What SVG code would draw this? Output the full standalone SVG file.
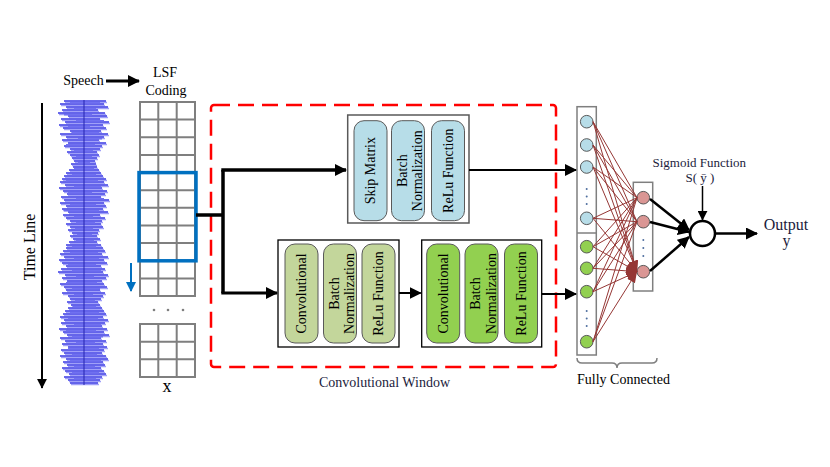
<svg xmlns="http://www.w3.org/2000/svg" width="830" height="467" viewBox="0 0 830 467" font-family="'Liberation Serif', 'DejaVu Serif', serif">
<style>
text{font-family:"Liberation Serif","DejaVu Serif",serif;fill:#000}
.t14{font-size:14px}
.t13{font-size:13px}
.navy{fill:#1c1c3c}
.grid{fill:none;stroke:#7f7f7f;stroke-width:2}
.blk{fill:#fff;stroke:#000;stroke-width:1.3}
.cell{stroke:#595959;stroke-width:1}
.skipc{fill:#b7dde8}
.conv1{fill:#c3d69b}
.conv2{fill:#92d050}
.cb{fill:#b7dde8;stroke:#595959;stroke-width:1}
.cg{fill:#92d050;stroke:#595959;stroke-width:1}
.cp{fill:#da9694;stroke:#595959;stroke-width:1}
.fcl{stroke:#953735;stroke-width:1;fill:none;marker-end:url(#ar)}
.con{fill:none;stroke:#000}
.dot{fill:#4f6f9f}
</style>
<defs>
<marker id="ah" viewBox="0 0 12 12" refX="11" refY="6" markerWidth="12" markerHeight="12" markerUnits="userSpaceOnUse" orient="auto"><path d="M0,0 L12,6 L0,12 Z" fill="#000"/></marker>
<marker id="ahs" viewBox="0 0 12 12" refX="11" refY="6" markerWidth="10" markerHeight="10" markerUnits="userSpaceOnUse" orient="auto"><path d="M0,0 L12,6 L0,12 Z" fill="#000"/></marker>
<marker id="ar" viewBox="0 0 10 8" refX="10" refY="4" markerWidth="11" markerHeight="9" markerUnits="userSpaceOnUse" orient="auto"><path d="M0,0 L10,4 L0,8 Z" fill="#953735"/></marker>
<marker id="ab" viewBox="0 0 10 10" refX="9" refY="5" markerWidth="10" markerHeight="10" markerUnits="userSpaceOnUse" orient="auto"><path d="M0,0 L10,5 L0,10 Z" fill="#0070c0"/></marker>
<path id="wave" d="M64 101H106M60 104H104M66 107H108M62 110H98M58 113H105M68 116H107M61 119H100M65 122H109M59 125H103M63 128H106M70 131H101M60 134H108M66 137H104M62 140H99M68 143H106M64 146H102M70 149H100M67 152H97M70 155H99M72 158H97M74 161H95M71 164H96M73 167H97M69 170H99M66 173H101M64 176H103M62 179H106M60 182H104M65 185H108M59 188H102M63 191H107M67 194H105M61 197H101M64 200H109M60 203H104M66 206H106M62 209H103M68 212H108M63 215H100M66 218H105M70 221H102M66 224H101M70 227H103M68 230H99M72 233H98M70 236H97M73 239H100M69 242H97M66 245H101M66 248H103M63 251H105M60 254H102M64 257H108M59 260H104M62 263H107M66 266H101M61 269H105M58 272H103M65 275H108M62 278H106M67 281H102M60 284H104M64 287H107M66 290H100M62 293H105M68 296H103M70 299H101M67 302H98M71 305H100M68 308H102M65 311H104M63 314H106M60 317H103M64 320H108M61 323H105M66 326H102M59 329H107M63 332H104M67 335H109M60 338H101M65 341H106M62 344H103M68 347H107M61 350H104M64 353H102M60 356H106M66 359H108M63 362H103M67 365H105M62 368H101M65 371H104M69 374H106M64 377H102M68 380H100M70 383H98"/>
<path id="wave2" d="M70 102H100M74 108H96M64 114H92M76 120H104M68 126H90M72 132H99M78 138H102M66 144H95M74 150H93M76 156H92M78 162H90M74 168H94M72 174H96M66 180H98M74 186H101M68 192H92M76 198H104M70 204H96M64 210H99M74 216H93M76 222H95M75 228H93M77 234H92M76 240H94M72 246H96M70 252H98M74 258H99M68 264H96M72 270H101M76 276H94M66 282H97M72 288H100M74 294H93M75 300H95M73 306H96M70 312H99M68 318H98M74 324H101M66 330H96M72 336H103M76 342H95M68 348H99M72 354H97M70 360H101M74 366H95M72 372H99M74 378H96"/>
</defs>

<g id="time-line">
<line x1="42" y1="103" x2="42" y2="388" stroke="#000" stroke-width="2" marker-end="url(#ahs)"/>
<text style="font-size:16px" transform="translate(35,247) rotate(-90)" text-anchor="middle">Time Line</text>
</g>

<g id="speech-waveform">
<use href="#wave" stroke="#a0a0f8" stroke-width="1.6" transform="translate(1,1.5)"/>
<use href="#wave" stroke="#3a3ae4" stroke-width="1.6"/>
<use href="#wave2" stroke="#7070f0" stroke-width="1.6" transform="translate(0,0.8)"/>
<line x1="84" y1="100" x2="84" y2="385" stroke="#2424b0" stroke-width="1"/>
</g>

<g id="speech-label">
<text class="t14" x="83.5" y="85" text-anchor="middle">Speech</text>
</g>

<g id="lsf-label">
<text class="t14" x="165" y="77" text-anchor="middle">LSF</text>
<text class="t14" x="166" y="95" text-anchor="middle">Coding</text>
</g>

<g id="lsf-grid">
<rect class="grid" x="140" y="102" width="55" height="194"/>
<path class="grid" d="M158.3 102V296M176.7 102V296M140 119.6H195M140 137.3H195M140 154.9H195M140 172.6H195M140 190.2H195M140 207.8H195M140 225.5H195M140 243.1H195M140 260.8H195M140 278.4H195"/>
<rect class="grid" x="140" y="324" width="55" height="53"/>
<path class="grid" d="M158.3 324V377M176.7 324V377M140 341.7H195M140 359.3H195"/>
<circle cx="154" cy="310" r="1.3" fill="#7f7f7f"/>
<circle cx="168" cy="310" r="1.3" fill="#7f7f7f"/>
<circle cx="183" cy="310" r="1.3" fill="#7f7f7f"/>
<rect x="139" y="172.6" width="57" height="88.2" fill="none" stroke="#0070c0" stroke-width="3.5"/>
<line x1="131" y1="263" x2="131" y2="291" stroke="#0070c0" stroke-width="2" marker-end="url(#ab)"/>
<text x="167" y="392" text-anchor="middle" style="font-size:18px">x</text>
</g>

<g id="convolutional-window">
<rect x="211" y="105" width="345" height="262" rx="3" fill="none" stroke="#ff0000" stroke-width="2.5" stroke-dasharray="16 8"/>
<text class="navy" x="384.5" y="387" text-anchor="middle" style="font-size:14px">Convolutional Window</text>
</g>

<g id="skip-block">
<rect x="347.7" y="115" width="121.3" height="108" fill="#fff" stroke="#595959" stroke-width="1.5"/>
<rect class="skipc cell" x="354" y="120.7" width="33" height="100" rx="10"/>
<rect class="skipc cell" x="391.5" y="120.7" width="33" height="100" rx="10"/>
<rect class="skipc cell" x="431.5" y="120.7" width="33" height="100" rx="10"/>
<text class="t14" transform="translate(370.5,170.7) rotate(-90)" y="4.5" text-anchor="middle">Skip Matrix</text>
<text class="t14" transform="translate(408,170.7) rotate(-90)" text-anchor="middle"><tspan x="0" y="-1.5">Batch</tspan><tspan x="0" y="14">Normalization</tspan></text>
<text class="t14" transform="translate(448,170.7) rotate(-90)" y="4.5" text-anchor="middle">ReLu Function</text>
</g>

<g id="conv-block-1">
<rect class="blk" x="278" y="240" width="121" height="107"/>
<rect class="conv1 cell" x="285" y="244" width="33" height="99" rx="10"/>
<rect class="conv1 cell" x="323.5" y="244" width="33" height="99" rx="10"/>
<rect class="conv1 cell" x="362" y="244" width="33" height="99" rx="10"/>
<text class="t14" transform="translate(301.5,293.5) rotate(-90)" y="4.5" text-anchor="middle">Convolutional</text>
<text class="t14" transform="translate(340,293.5) rotate(-90)" text-anchor="middle"><tspan x="0" y="-1.5">Batch</tspan><tspan x="0" y="14">Normalization</tspan></text>
<text class="t14" transform="translate(378.5,293.5) rotate(-90)" y="4.5" text-anchor="middle">ReLu Function</text>
</g>

<g id="conv-block-2">
<rect class="blk" x="421.7" y="240" width="120" height="107"/>
<rect class="conv2 cell" x="426.7" y="244" width="33" height="99" rx="10"/>
<rect class="conv2 cell" x="465" y="244" width="33" height="99" rx="10"/>
<rect class="conv2 cell" x="504.5" y="244" width="33" height="99" rx="10"/>
<text class="t14" transform="translate(443.2,293.5) rotate(-90)" y="4.5" text-anchor="middle">Convolutional</text>
<text class="t14" transform="translate(481.5,293.5) rotate(-90)" text-anchor="middle"><tspan x="0" y="-1.5">Batch</tspan><tspan x="0" y="14">Normalization</tspan></text>
<text class="t14" transform="translate(521,293.5) rotate(-90)" y="4.5" text-anchor="middle">ReLu Function</text>
</g>

<g id="fc-input-layer">
<rect x="577" y="106.7" width="19.3" height="248.3" fill="#fff" stroke="#7f7f7f" stroke-width="1.5"/>
<line x1="577" y1="233" x2="596.3" y2="233" stroke="#7f7f7f" stroke-width="1.5"/>
<circle class="cb" cx="586.7" cy="121.7" r="6.3"/>
<circle class="cb" cx="586.7" cy="145" r="6.3"/>
<circle class="cb" cx="586.7" cy="167" r="6.3"/>
<circle class="dot" cx="586.7" cy="189" r="1"/>
<circle class="dot" cx="586.7" cy="196.5" r="1"/>
<circle class="dot" cx="586.7" cy="204" r="1"/>
<circle class="cb" cx="586.7" cy="218.3" r="6.3"/>
<circle class="cg" cx="586.7" cy="246.7" r="6.3"/>
<circle class="cg" cx="586.7" cy="268.3" r="6.3"/>
<circle class="cg" cx="586.7" cy="291.7" r="6.3"/>
<circle class="dot" cx="586.7" cy="311" r="1"/>
<circle class="dot" cx="586.7" cy="318.5" r="1"/>
<circle class="dot" cx="586.7" cy="326" r="1"/>
<circle class="cg" cx="586.7" cy="341.7" r="6.3"/>
</g>

<g id="fc-hidden-layer">
<rect x="633.3" y="182.3" width="19.4" height="108.7" fill="#fff" stroke="#7f7f7f" stroke-width="1.5"/>
<circle class="cp" cx="643.3" cy="197.7" r="6.3"/>
<circle class="cp" cx="643.3" cy="221.7" r="6.3"/>
<circle class="dot" cx="643.3" cy="240" r="1"/>
<circle class="dot" cx="643.3" cy="248" r="1"/>
<circle class="dot" cx="643.3" cy="256" r="1"/>
<circle class="cp" cx="643.3" cy="271.7" r="6.3"/>
</g>

<g id="fc-label">
<path d="M577 358Q577 363 582 363H612Q617 363 617 368Q617 363 622 363H652Q657 363 657 358" fill="none" stroke="#7f7f7f" stroke-width="1.5"/>
<text class="t14" x="623.5" y="383.5" text-anchor="middle">Fully Connected</text>
</g>

<g id="sigmoid-node">
<circle cx="702.5" cy="233.5" r="12.5" fill="#fff" stroke="#000" stroke-width="2.5"/>
<text class="navy t13" x="699.3" y="166.7" text-anchor="middle">Sigmoid Function</text>
<text class="navy t13" x="700" y="182" text-anchor="middle">S( ȳ )</text>
</g>

<g id="output">
<text class="navy" x="786" y="229.5" text-anchor="middle" style="font-size:16px">Output</text>
<text class="navy" x="786.5" y="246" text-anchor="middle" style="font-size:16px">y</text>
</g>

<g id="connectors">
<line class="con" x1="106" y1="81" x2="139" y2="81" stroke-width="3" marker-end="url(#ah)"/>
<path class="con" d="M196 215H223" stroke-width="3.5"/>
<path class="con" d="M223 170V293" stroke-width="3.5"/>
<path class="con" d="M221.3 170H346" stroke-width="3.5" marker-end="url(#ah)"/>
<path class="con" d="M221.3 293H277" stroke-width="3" marker-end="url(#ah)"/>
<path class="con" d="M469 170H576" stroke-width="2" marker-end="url(#ah)"/>
<path class="con" d="M399 293H420.7" stroke-width="2" marker-end="url(#ah)"/>
<path class="con" d="M541.7 294H576" stroke-width="2" marker-end="url(#ah)"/>
<g id="fc-edges">
<path class="fcl" d="M593 121.7L637 197.7M593 121.7L637 221.7M593 121.7L637 271.7"/>
<path class="fcl" d="M593 145L637 197.7M593 145L637 221.7M593 145L637 271.7"/>
<path class="fcl" d="M593 167L637 197.7M593 167L637 221.7M593 167L637 271.7"/>
<path class="fcl" d="M593 218.3L637 197.7M593 218.3L637 221.7M593 218.3L637 271.7"/>
<path class="fcl" d="M593 246.7L637 197.7M593 246.7L637 221.7M593 246.7L637 271.7"/>
<path class="fcl" d="M593 268.3L637 197.7M593 268.3L637 221.7M593 268.3L637 271.7"/>
<path class="fcl" d="M593 291.7L637 197.7M593 291.7L637 221.7M593 291.7L637 271.7"/>
<path class="fcl" d="M593 341.7L637 197.7M593 341.7L637 221.7M593 341.7L637 271.7"/>
</g>
<path class="con" d="M650 199L689 230" stroke-width="2.5" marker-end="url(#ah)"/>
<path class="con" d="M650 222L689 232" stroke-width="2.5" marker-end="url(#ah)"/>
<path class="con" d="M650 271L689 237" stroke-width="2.5" marker-end="url(#ah)"/>
<path class="con" d="M702.5 186V220" stroke-width="1.5" marker-end="url(#ahs)"/>
<path class="con" d="M715 233.5H757" stroke-width="2.5" marker-end="url(#ah)"/>
</g>
</svg>
